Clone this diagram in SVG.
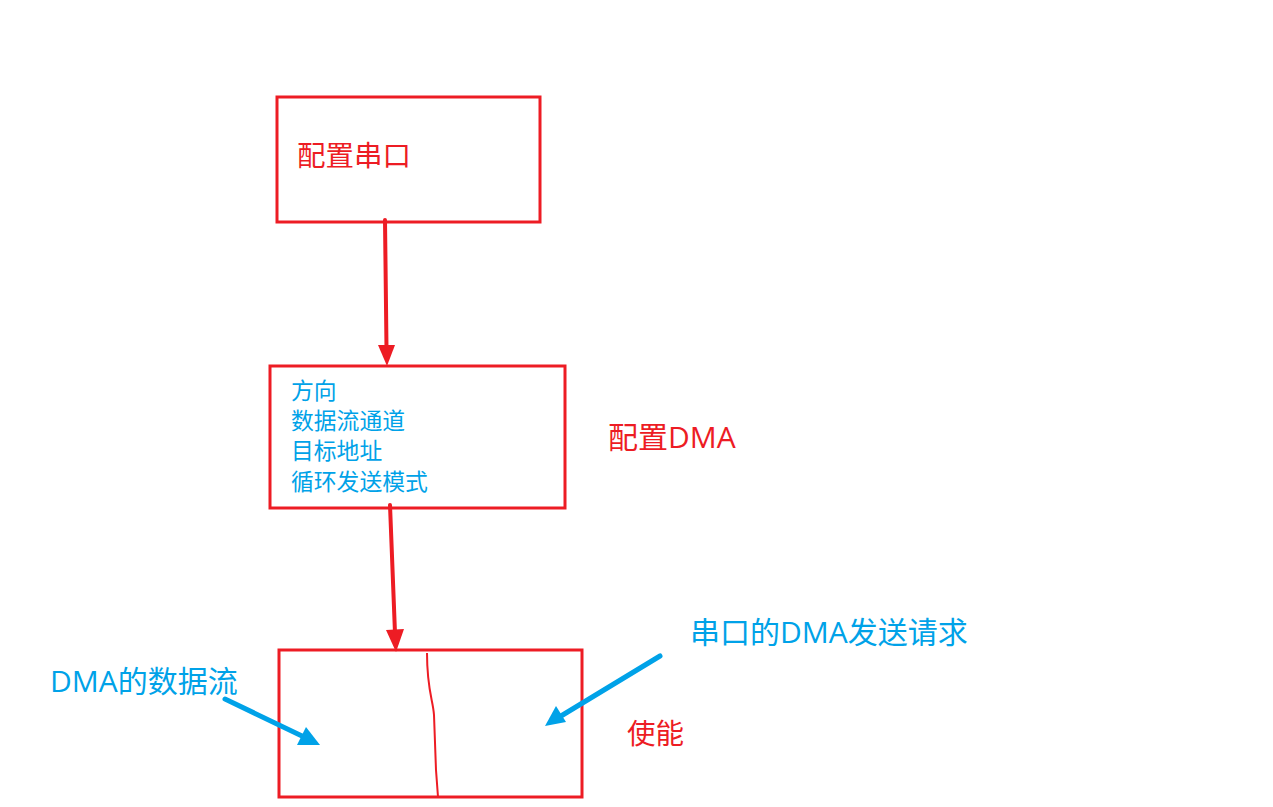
<svg xmlns="http://www.w3.org/2000/svg" width="1273" height="807" viewBox="0 0 1273 807">
<style>
.box{fill:none;stroke:#ED1C24;stroke-width:3}
.red{fill:#ED1C24}
.blue{fill:#00A2E8}
text{font-family:"Noto Sans CJK SC","Noto Sans",sans-serif}
.lat{font-family:"Open Sans","Noto Sans",sans-serif}
.rl{stroke:#ED1C24;stroke-width:4;fill:none;stroke-linecap:round}
.bl{stroke:#00A2E8;stroke-width:5;fill:none;stroke-linecap:round}
</style>
<rect width="1273" height="807" fill="#fff"/>
<g id="node-uart">
<rect class="box" x="277" y="97" width="263" height="125"/>
<text class="red" x="297" y="166" font-size="28.5">配置串口</text>
</g>
<g id="node-dma">
<rect class="box" x="270" y="366" width="295" height="142"/>
<text class="blue" font-size="22.8"><tspan x="291" y="399">方向</tspan><tspan x="291" y="429">数据流通道</tspan><tspan x="291" y="459">目标地址</tspan><tspan x="291" y="490">循环发送模式</tspan></text>
</g>
<g id="label-dma"><text class="red" x="608" y="448" font-size="30">配置<tspan class="lat">DMA</tspan></text></g>
<g id="node-enable">
<rect class="box" x="279" y="650" width="303" height="147"/>
<path d="M427 653 C427 690 433 700 434 715 L436 770 L438 797" stroke="#ED1C24" stroke-width="2" fill="none"/>
</g>
<g id="label-enable"><text class="red" x="627" y="744" font-size="28.5">使能</text></g>
<g id="label-flow"><text class="blue" x="50" y="692" font-size="30"><tspan class="lat">DMA</tspan>的数据流</text></g>
<g id="label-req"><text class="blue" x="690" y="643" font-size="30">串口的<tspan class="lat">DMA</tspan>发送请求</text></g>
<g id="connectors">
<line class="rl" x1="385" y1="220" x2="386.5" y2="348"/>
<polygon class="red" points="387,366 378,345 395,345"/>
<line class="rl" x1="390" y1="505" x2="395" y2="633"/>
<polygon class="red" points="396,652 386,630 404,629"/>
<line class="bl" x1="225" y1="699" x2="302" y2="736"/>
<polygon class="blue" points="320,745 297,745 306,727"/>
<line class="bl" x1="660" y1="656" x2="561" y2="716"/>
<polygon class="blue" points="545,726 556,706 566,722"/>
</g>
</svg>
